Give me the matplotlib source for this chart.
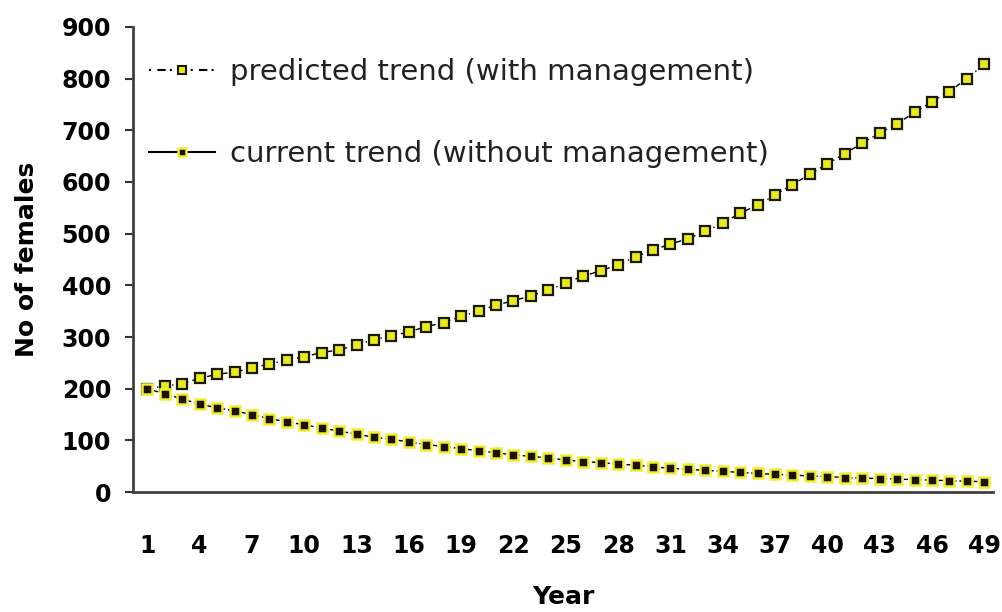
import matplotlib
matplotlib.use("Agg")
import matplotlib.pyplot as plt
from matplotlib.lines import Line2D

years = list(range(1, 50))
predicted = [200, 205, 210, 220, 228, 232, 240, 248, 255, 262,
             270, 275, 285, 295, 302, 310, 320, 328, 340, 350,
             362, 370, 380, 390, 405, 418, 428, 440, 455, 468,
             480, 490, 505, 520, 540, 555, 575, 595, 615, 635,
             655, 675, 695, 712, 735, 755, 775, 800, 828]
current = [200, 190, 180, 170, 163, 157, 150, 142, 136, 130,
           124, 118, 112, 106, 102, 97, 92, 88, 84, 80,
           76, 72, 69, 66, 62, 59, 57, 54, 52, 49,
           46, 44, 42, 40, 38, 36, 34, 33, 31, 30,
           28, 27, 26, 25, 24, 23, 22, 21, 20]
xticks = list(range(1, 50, 3))
yticks = list(range(0, 901, 100))
labels = ['predicted trend (with management)', 'current trend (without management)']

plt.rcParams['font.family'] = ['DejaVu Sans']

fig = plt.figure(figsize=(10.03, 6.12), dpi=100)
ax = fig.add_axes([0.133, 0.196, 0.857, 0.760])

ax.plot(years, predicted, linestyle=(0, (4, 3, 1, 3)), color='black', linewidth=1.0,
        marker='s', markersize=7.5, markerfacecolor='#e8ea1c', markeredgecolor='#1a1a00',
        markeredgewidth=1.6)
ax.plot(years, current, linestyle=(0, (3, 2)), color='black', linewidth=1.0,
        marker='s', markersize=6.5, markerfacecolor='#1a1400', markeredgecolor='#f2ee30',
        markeredgewidth=1.8, zorder=3)

ax.set_xlim(0.2, 49.5)
ax.set_ylim(0, 900)
ax.set_xticks(xticks)
ax.set_xticklabels([str(t) for t in xticks], fontsize=17, fontweight='bold')
ax.set_yticks(yticks)
ax.set_yticklabels([str(t) for t in yticks], fontsize=17, fontweight='bold')
ax.tick_params(axis='x', length=0, pad=30)
ax.tick_params(axis='y', length=6, width=1.5, color='#333333', pad=10)

for s in ['top', 'right']:
    ax.spines[s].set_visible(False)
for s in ['left', 'bottom']:
    ax.spines[s].set_color('#404040')
    ax.spines[s].set_linewidth(2)

ax.set_xlabel('Year', fontsize=18, fontweight='bold', labelpad=20)
ax.set_ylabel('No of females', fontsize=18, fontweight='bold', labelpad=16)

h1 = Line2D([], [], linestyle=(0, (1, 3, 4, 2)), color='black', linewidth=1.5,
            marker='s', markersize=6, markerfacecolor='#e8ea1c', markeredgecolor='#1a1a00',
            markeredgewidth=1.5)
h2 = Line2D([], [], linestyle='-', color='black', linewidth=1.5,
            marker='s', markersize=6, markerfacecolor='#1a1400', markeredgecolor='#f2ee30',
            markeredgewidth=1.8)
leg = ax.legend([h1, h2], labels, loc='upper left', bbox_to_anchor=(-0.012, 0.99),
                frameon=False, fontsize=21, labelspacing=1.85, handlelength=2.25,
                handletextpad=0.5)
for t in leg.get_texts():
    t.set_color('#222222')

fig.savefig('out.png', dpi=100)
